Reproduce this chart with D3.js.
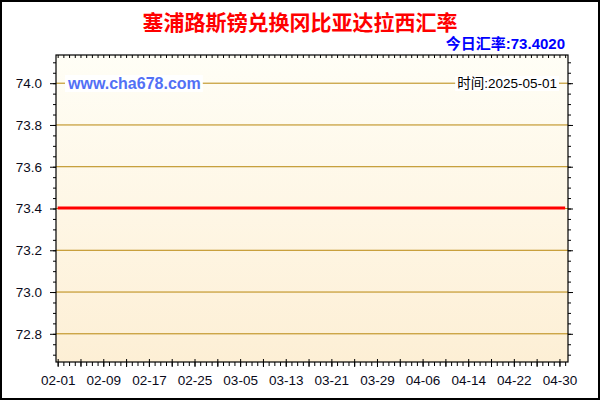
<!DOCTYPE html>
<html lang="zh">
<head>
<meta charset="utf-8">
<title>塞浦路斯镑兑换冈比亚达拉西汇率</title>
<script src="https://cdn.jsdelivr.net/npm/d3@7"></script>
<style>
  body { margin: 0; background: #fff; }
  svg text { font-family: "Liberation Sans", Arial, "Noto Sans CJK SC", sans-serif; }
</style>
</head>
<body>
<script>
// chart size
var w = 600, h = 400;

// data: daily rate 2025-02-01 .. 2025-05-01 (flat)
var startDate = "2025-02-01";
var endDate = "2025-05-01";
var rates = [
  73.402, 73.402, 73.402, 73.402, 73.402, 73.402, 73.402, 73.402, 73.402, 73.402,
  73.402, 73.402, 73.402, 73.402, 73.402, 73.402, 73.402, 73.402, 73.402, 73.402,
  73.402, 73.402, 73.402, 73.402, 73.402, 73.402, 73.402, 73.402, 73.402, 73.402,
  73.402, 73.402, 73.402, 73.402, 73.402, 73.402, 73.402, 73.402, 73.402, 73.402,
  73.402, 73.402, 73.402, 73.402, 73.402, 73.402, 73.402, 73.402, 73.402, 73.402,
  73.402, 73.402, 73.402, 73.402, 73.402, 73.402, 73.402, 73.402, 73.402, 73.402,
  73.402, 73.402, 73.402, 73.402, 73.402, 73.402, 73.402, 73.402, 73.402, 73.402,
  73.402, 73.402, 73.402, 73.402, 73.402, 73.402, 73.402, 73.402, 73.402, 73.402,
  73.402, 73.402, 73.402, 73.402, 73.402, 73.402, 73.402, 73.402, 73.402, 73.402
];
var yTicks = [72.8, 73.0, 73.2, 73.4, 73.6, 73.8, 74.0];
var xTickLabels = ["02-01","02-09","02-17","02-25","03-05","03-13","03-21","03-29","04-06","04-14","04-22","04-30"];
var title = "塞浦路斯镑兑换冈比亚达拉西汇率";
var todayText = "今日汇率:73.4020";
var timeText = "时间:2025-05-01";
var siteText = "www.cha678.com";

// plot frame (window.top is reserved, so prefixed names)
var pLeft = 56, pRight = 568, pTop = 55, pBottom = 362;

var parse = d3.timeParse("%Y-%m-%d");
var fmt = d3.timeFormat("%m-%d");
var t0 = parse(startDate), t1 = parse(endDate);
var days = d3.timeDay.range(t0, d3.timeDay.offset(t1, 1));
var data = days.map(function (d, i) { return { date: d, value: rates[i] }; });

var x = d3.scaleTime()
    .domain([d3.timeHour.offset(t0, -7), d3.timeHour.offset(t1, 12)])
    .range([pLeft, pRight]);
var y = d3.scaleLinear()
    .domain([72.665, 74.135])
    .range([pBottom, pTop]);

var svg = d3.select("body").append("svg")
    .attr("width", w)
    .attr("height", h);

// background gradient
var grad = svg.append("defs").append("linearGradient")
    .attr("id", "bg").attr("x1", 0).attr("y1", 0).attr("x2", 0).attr("y2", 1);
grad.append("stop").attr("offset", "0%").attr("stop-color", "#fffef6");
grad.append("stop").attr("offset", "100%").attr("stop-color", "#fdefd5");

svg.append("rect")
    .attr("x", 1).attr("y", 1).attr("width", w - 2).attr("height", h - 2)
    .attr("fill", "#fff").attr("stroke", "#000").attr("stroke-width", 2);

svg.append("rect")
    .attr("x", pLeft).attr("y", pTop)
    .attr("width", pRight - pLeft).attr("height", pBottom - pTop)
    .attr("fill", "url(#bg)");

// gridlines
svg.append("g").selectAll("line")
    .data(yTicks)
    .enter().append("line")
    .attr("x1", pLeft).attr("x2", pRight)
    .attr("y1", function (d) { return y(d); })
    .attr("y2", function (d) { return y(d); })
    .attr("stroke", "#b8870c")
    .attr("stroke-width", 1);

// minor y ticks (0.05)
var yMinor = d3.range(72.7, 74.13, 0.05).map(function (v) { return +v.toFixed(2); });

var yl = svg.append("g").attr("transform", "translate(" + pLeft + ",0)")
    .call(d3.axisLeft(y).tickValues(yMinor).tickSize(3).tickFormat(""));
var yL = svg.append("g").attr("transform", "translate(" + pLeft + ",0)")
    .call(d3.axisLeft(y).tickValues(yTicks).tickSize(6).tickPadding(8)
        .tickFormat(d3.format(".1f")));
var yr = svg.append("g").attr("transform", "translate(" + pRight + ",0)")
    .call(d3.axisRight(y).tickValues(yMinor).tickSize(3).tickFormat(""));
var yR = svg.append("g").attr("transform", "translate(" + pRight + ",0)")
    .call(d3.axisRight(y).tickValues(yTicks).tickSize(5).tickFormat(""));

// x ticks: daily minor, every 4 days major, labels every 8 days
var xMajor = days.filter(function (d, i) { return i % 4 === 0; });
var xLabeled = days.filter(function (d) { return xTickLabels.indexOf(fmt(d)) >= 0; });

var xb = svg.append("g").attr("transform", "translate(0," + pBottom + ")")
    .call(d3.axisBottom(x).tickValues(days).tickSize(4).tickFormat(""));
var xB = svg.append("g").attr("transform", "translate(0," + pBottom + ")")
    .call(d3.axisBottom(x).tickValues(xMajor).tickSize(5).tickFormat(""));
xB.selectAll(".tick line").attr("y1", -3);
var xT = svg.append("g").attr("transform", "translate(0," + pBottom + ")")
    .call(d3.axisBottom(x).tickValues(xLabeled).tickSize(0).tickPadding(13).tickFormat(fmt));
var xt = svg.append("g").attr("transform", "translate(0," + pTop + ")")
    .call(d3.axisBottom(x).tickValues(days).tickSize(3).tickFormat(""));

[yl, yL, yr, yR, xb, xB, xT, xt].forEach(function (g) {
    g.select(".domain").remove();
    g.selectAll(".tick line").attr("stroke", "#000");
    g.selectAll("text").attr("fill", "#0a0a1a").style("font-size", "13.5px");
});

// frame
svg.append("rect")
    .attr("x", pLeft).attr("y", pTop)
    .attr("width", pRight - pLeft).attr("height", pBottom - pTop)
    .attr("fill", "none").attr("stroke", "#000").attr("stroke-width", 1.2);

// rate line
var line = d3.line()
    .x(function (d) { return x(d.date); })
    .y(function (d) { return y(d.value); });

svg.append("path")
    .datum(data)
    .attr("fill", "none")
    .attr("stroke", "#ff0000")
    .attr("stroke-width", 3)
    .attr("d", line);

// labels with white boxes
function boxedText(tx, ty, anchor, txt, size, weight, color) {
    var g = svg.append("g");
    var r = g.append("rect").attr("fill", "#fff");
    var t = g.append("text")
        .attr("x", tx).attr("y", ty)
        .attr("text-anchor", anchor)
        .attr("fill", color)
        .style("font-size", size)
        .style("font-weight", weight)
        .text(txt);
    var b = t.node().getBBox();
    r.attr("x", b.x - 2).attr("y", b.y).attr("width", b.width + 4).attr("height", b.height);
}
boxedText(68, 89, "start", siteText, "16px", "bold", "#5270f5");
boxedText(557, 88, "end", timeText, "13.5px", "normal", "#000");

// titles
svg.append("text")
    .attr("x", 300).attr("y", 30)
    .attr("text-anchor", "middle")
    .attr("fill", "#ff0000")
    .style("font-family", "'Noto Sans CJK SC', sans-serif")
    .style("font-size", "21px")
    .style("font-weight", "bold")
    .text(title);

svg.append("text")
    .attr("x", 565).attr("y", 49)
    .attr("text-anchor", "end")
    .attr("fill", "#0000ff")
    .style("font-size", "15px")
    .style("font-weight", "bold")
    .text(todayText);
</script>
</body>
</html>
